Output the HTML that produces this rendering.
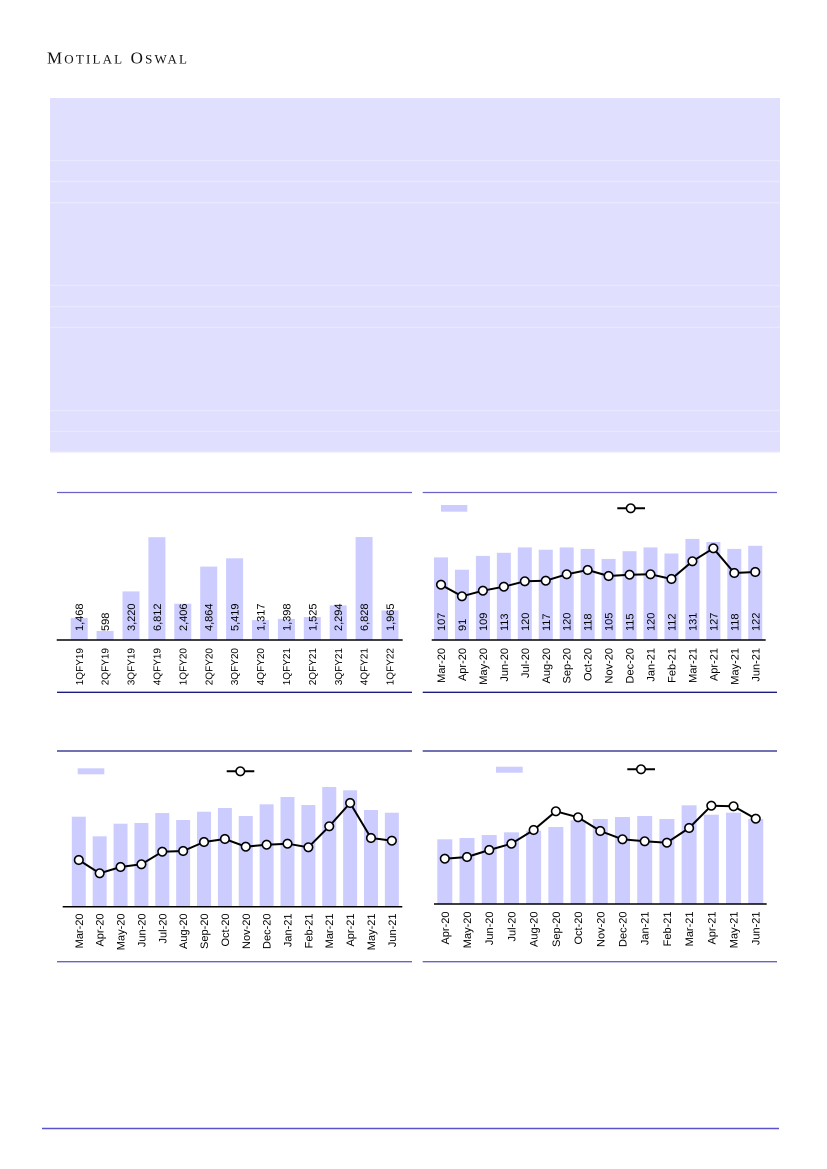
<!DOCTYPE html>
<html>
<head>
<meta charset="utf-8">
<style>
html,body{margin:0;padding:0;background:#fff;}
body{width:827px;height:1169px;overflow:hidden;}
svg{display:block;}
text{font-family:"Liberation Sans",Arial,sans-serif;fill:#000;}
.hdr{font-family:"Liberation Serif","Times New Roman",serif;fill:#111;}
.dl{font-size:11px;}
.cl{font-size:11px;}
.bar{fill:#ccccff;}
.ln{fill:none;stroke:#000;stroke-width:2;stroke-linejoin:round;}
.mk{fill:#fff;stroke:#000;stroke-width:1.6;}
</style>
</head>
<body>
<svg width="827" height="1169" viewBox="0 0 827 1169" xmlns="http://www.w3.org/2000/svg">
<!-- Header -->
<text class="hdr" x="47" y="63.5" textLength="140" lengthAdjust="spacing"><tspan font-size="17">M</tspan><tspan font-size="13">OTILAL</tspan><tspan font-size="17"> O</tspan><tspan font-size="13">SWAL</tspan></text>

<!-- Table block -->
<rect x="50" y="98" width="730" height="354" fill="#e0e0fe"/>
<g stroke="#eaeaff" stroke-width="1.2">
<line x1="50" y1="160.7" x2="780" y2="160.7"/>
<line x1="50" y1="181.5" x2="780" y2="181.5"/>
<line x1="50" y1="202.8" x2="780" y2="202.8"/>
<line x1="50" y1="285.3" x2="780" y2="285.3"/>
<line x1="50" y1="306.7" x2="780" y2="306.7"/>
<line x1="50" y1="327.3" x2="780" y2="327.3"/>
<line x1="50" y1="410.7" x2="780" y2="410.7"/>
<line x1="50" y1="431.3" x2="780" y2="431.3"/>
<line x1="50" y1="452" x2="780" y2="452"/>
</g>

<!-- Chart frame lines -->
<g stroke-width="1.3">
<line x1="57" y1="492.5" x2="412" y2="492.5" stroke="#6a62c8"/>
<line x1="422.7" y1="492.5" x2="777" y2="492.5" stroke="#6a62c8"/>
<line x1="57" y1="692.3" x2="412" y2="692.3" stroke="#1c1c82"/>
<line x1="422.7" y1="692.3" x2="777" y2="692.3" stroke="#1c1c82"/>
<line x1="57" y1="751" x2="412" y2="751" stroke="#1c1c82"/>
<line x1="422.7" y1="751" x2="777" y2="751" stroke="#1c1c82"/>
<line x1="57" y1="961.7" x2="412" y2="961.7" stroke="#6a62c8"/>
<line x1="422.7" y1="961.7" x2="777" y2="961.7" stroke="#6a62c8"/>
</g>

<!-- Footer line -->
<line x1="42" y1="1128.5" x2="779" y2="1128.5" stroke="#5a52cc" stroke-width="1.5"/>

<!-- ============ Chart 1 ============ -->
<g>
<rect class="bar" x="70.7" y="617.9" width="17" height="22.1"/>
<rect class="bar" x="96.6" y="631" width="17" height="9"/>
<rect class="bar" x="122.5" y="591.4" width="17" height="48.6"/>
<rect class="bar" x="148.4" y="537.2" width="17" height="102.8"/>
<rect class="bar" x="174.3" y="603.7" width="17" height="36.3"/>
<rect class="bar" x="200.2" y="566.6" width="17" height="73.4"/>
<rect class="bar" x="226.1" y="558.3" width="17" height="81.7"/>
<rect class="bar" x="252" y="620.1" width="17" height="19.9"/>
<rect class="bar" x="277.9" y="618.9" width="17" height="21.1"/>
<rect class="bar" x="303.8" y="617" width="17" height="23"/>
<rect class="bar" x="329.7" y="605.4" width="17" height="34.6"/>
<rect class="bar" x="355.6" y="537" width="17" height="103"/>
<rect class="bar" x="381.5" y="610.4" width="17" height="29.6"/>
<line x1="56.7" y1="640" x2="402.7" y2="640" stroke="#000" stroke-width="1.5"/>
<g class="dl">
<text transform="translate(83.2,631) rotate(-90)">1,468</text>
<text transform="translate(109.1,631) rotate(-90)">598</text>
<text transform="translate(135,631) rotate(-90)">3,220</text>
<text transform="translate(160.9,631) rotate(-90)">6,812</text>
<text transform="translate(186.8,631) rotate(-90)">2,406</text>
<text transform="translate(212.7,631) rotate(-90)">4,864</text>
<text transform="translate(238.6,631) rotate(-90)">5,419</text>
<text transform="translate(264.5,631) rotate(-90)">1,317</text>
<text transform="translate(290.4,631) rotate(-90)">1,398</text>
<text transform="translate(316.3,631) rotate(-90)">1,525</text>
<text transform="translate(342.2,631) rotate(-90)">2,294</text>
<text transform="translate(368.1,631) rotate(-90)">6,828</text>
<text transform="translate(394,631) rotate(-90)">1,965</text>
</g>
<g class="cl" text-anchor="end" style="font-size:10px">
<text transform="translate(82.8,648) rotate(-90)">1QFY19</text>
<text transform="translate(108.7,648) rotate(-90)">2QFY19</text>
<text transform="translate(134.6,648) rotate(-90)">3QFY19</text>
<text transform="translate(160.5,648) rotate(-90)">4QFY19</text>
<text transform="translate(186.4,648) rotate(-90)">1QFY20</text>
<text transform="translate(212.3,648) rotate(-90)">2QFY20</text>
<text transform="translate(238.2,648) rotate(-90)">3QFY20</text>
<text transform="translate(264.1,648) rotate(-90)">4QFY20</text>
<text transform="translate(290,648) rotate(-90)">1QFY21</text>
<text transform="translate(315.9,648) rotate(-90)">2QFY21</text>
<text transform="translate(341.8,648) rotate(-90)">3QFY21</text>
<text transform="translate(367.7,648) rotate(-90)">4QFY21</text>
<text transform="translate(393.6,648) rotate(-90)">1QFY22</text>
</g>
</g>

<!-- ============ Chart 2 ============ -->
<g>
<rect class="bar" x="441" y="505" width="26.3" height="6.7"/>
<line x1="617.3" y1="508.3" x2="645" y2="508.3" stroke="#000" stroke-width="2"/>
<circle class="mk" cx="630.7" cy="508.3" r="4.3"/>

<rect class="bar" x="434" y="557.4" width="14" height="82.6"/>
<rect class="bar" x="454.95" y="569.7" width="14" height="70.3"/>
<rect class="bar" x="475.9" y="555.9" width="14" height="84.1"/>
<rect class="bar" x="496.85" y="552.8" width="14" height="87.2"/>
<rect class="bar" x="517.8" y="547.4" width="14" height="92.6"/>
<rect class="bar" x="538.75" y="549.7" width="14" height="90.3"/>
<rect class="bar" x="559.7" y="547.4" width="14" height="92.6"/>
<rect class="bar" x="580.65" y="548.9" width="14" height="91.1"/>
<rect class="bar" x="601.6" y="558.9" width="14" height="81.1"/>
<rect class="bar" x="622.55" y="551.2" width="14" height="88.8"/>
<rect class="bar" x="643.5" y="547.4" width="14" height="92.6"/>
<rect class="bar" x="664.45" y="553.5" width="14" height="86.5"/>
<rect class="bar" x="685.4" y="538.9" width="14" height="101.1"/>
<rect class="bar" x="706.35" y="542" width="14" height="98"/>
<rect class="bar" x="727.3" y="548.9" width="14" height="91.1"/>
<rect class="bar" x="748.25" y="545.8" width="14" height="94.2"/>
<line x1="431.7" y1="640" x2="765.7" y2="640" stroke="#000" stroke-width="1.5"/>

<polyline class="ln" points="441,584.7 461.95,596.3 482.9,590.7 503.85,586.7 524.8,581.3 545.75,580.7 566.7,574.3 587.65,570 608.6,576 629.55,574.7 650.5,574.3 671.45,579 692.4,561.3 713.35,548.3 734.3,573 755.25,572"/>
<g>
<circle class="mk" cx="441" cy="584.7" r="4.3"/>
<circle class="mk" cx="461.95" cy="596.3" r="4.3"/>
<circle class="mk" cx="482.9" cy="590.7" r="4.3"/>
<circle class="mk" cx="503.85" cy="586.7" r="4.3"/>
<circle class="mk" cx="524.8" cy="581.3" r="4.3"/>
<circle class="mk" cx="545.75" cy="580.7" r="4.3"/>
<circle class="mk" cx="566.7" cy="574.3" r="4.3"/>
<circle class="mk" cx="587.65" cy="570" r="4.3"/>
<circle class="mk" cx="608.6" cy="576" r="4.3"/>
<circle class="mk" cx="629.55" cy="574.7" r="4.3"/>
<circle class="mk" cx="650.5" cy="574.3" r="4.3"/>
<circle class="mk" cx="671.45" cy="579" r="4.3"/>
<circle class="mk" cx="692.4" cy="561.3" r="4.3"/>
<circle class="mk" cx="713.35" cy="548.3" r="4.3"/>
<circle class="mk" cx="734.3" cy="573" r="4.3"/>
<circle class="mk" cx="755.25" cy="572" r="4.3"/>
</g>
<g class="dl">
<text transform="translate(445,631) rotate(-90)">107</text>
<text transform="translate(465.95,631) rotate(-90)">91</text>
<text transform="translate(486.9,631) rotate(-90)">109</text>
<text transform="translate(507.85,631) rotate(-90)">113</text>
<text transform="translate(528.8,631) rotate(-90)">120</text>
<text transform="translate(549.75,631) rotate(-90)">117</text>
<text transform="translate(570.7,631) rotate(-90)">120</text>
<text transform="translate(591.65,631) rotate(-90)">118</text>
<text transform="translate(612.6,631) rotate(-90)">105</text>
<text transform="translate(633.55,631) rotate(-90)">115</text>
<text transform="translate(654.5,631) rotate(-90)">120</text>
<text transform="translate(675.45,631) rotate(-90)">112</text>
<text transform="translate(696.4,631) rotate(-90)">131</text>
<text transform="translate(717.35,631) rotate(-90)">127</text>
<text transform="translate(738.3,631) rotate(-90)">118</text>
<text transform="translate(759.25,631) rotate(-90)">122</text>
</g>
<g class="cl" text-anchor="end">
<text transform="translate(445,648) rotate(-90)">Mar-20</text>
<text transform="translate(465.95,648) rotate(-90)">Apr-20</text>
<text transform="translate(486.9,648) rotate(-90)">May-20</text>
<text transform="translate(507.85,648) rotate(-90)">Jun-20</text>
<text transform="translate(528.8,648) rotate(-90)">Jul-20</text>
<text transform="translate(549.75,648) rotate(-90)">Aug-20</text>
<text transform="translate(570.7,648) rotate(-90)">Sep-20</text>
<text transform="translate(591.65,648) rotate(-90)">Oct-20</text>
<text transform="translate(612.6,648) rotate(-90)">Nov-20</text>
<text transform="translate(633.55,648) rotate(-90)">Dec-20</text>
<text transform="translate(654.5,648) rotate(-90)">Jan-21</text>
<text transform="translate(675.45,648) rotate(-90)">Feb-21</text>
<text transform="translate(696.4,648) rotate(-90)">Mar-21</text>
<text transform="translate(717.35,648) rotate(-90)">Apr-21</text>
<text transform="translate(738.3,648) rotate(-90)">May-21</text>
<text transform="translate(759.25,648) rotate(-90)">Jun-21</text>
</g>
</g>

<!-- ============ Chart 3 ============ -->
<g>
<rect class="bar" x="77.7" y="768.3" width="26.6" height="6"/>
<line x1="226.7" y1="771.3" x2="254.3" y2="771.3" stroke="#000" stroke-width="2"/>
<circle class="mk" cx="240.3" cy="771.3" r="4.3"/>

<rect class="bar" x="71.8" y="816.7" width="14" height="90"/>
<rect class="bar" x="92.67" y="836.3" width="14" height="70.4"/>
<rect class="bar" x="113.54" y="823.7" width="14" height="83"/>
<rect class="bar" x="134.41" y="823" width="14" height="83.7"/>
<rect class="bar" x="155.28" y="813" width="14" height="93.7"/>
<rect class="bar" x="176.15" y="820" width="14" height="86.7"/>
<rect class="bar" x="197.02" y="811.7" width="14" height="95"/>
<rect class="bar" x="217.89" y="808" width="14" height="98.7"/>
<rect class="bar" x="238.76" y="816" width="14" height="90.7"/>
<rect class="bar" x="259.63" y="804.3" width="14" height="102.4"/>
<rect class="bar" x="280.5" y="797" width="14" height="109.7"/>
<rect class="bar" x="301.37" y="805" width="14" height="101.7"/>
<rect class="bar" x="322.24" y="787" width="14" height="119.7"/>
<rect class="bar" x="343.11" y="790.3" width="14" height="116.4"/>
<rect class="bar" x="363.98" y="810" width="14" height="96.7"/>
<rect class="bar" x="384.85" y="812.7" width="14" height="94"/>
<line x1="62.7" y1="906.7" x2="402.3" y2="906.7" stroke="#000" stroke-width="1.5"/>

<polyline class="ln" points="78.8,860 99.67,873.3 120.54,867 141.41,864.3 162.28,851.7 183.15,851 204.02,842 224.89,839 245.76,846.7 266.63,844.7 287.5,843.7 308.37,847.3 329.24,826.3 350.11,803 370.98,838 391.85,840.7"/>
<g>
<circle class="mk" cx="78.8" cy="860" r="4.3"/>
<circle class="mk" cx="99.67" cy="873.3" r="4.3"/>
<circle class="mk" cx="120.54" cy="867" r="4.3"/>
<circle class="mk" cx="141.41" cy="864.3" r="4.3"/>
<circle class="mk" cx="162.28" cy="851.7" r="4.3"/>
<circle class="mk" cx="183.15" cy="851" r="4.3"/>
<circle class="mk" cx="204.02" cy="842" r="4.3"/>
<circle class="mk" cx="224.89" cy="839" r="4.3"/>
<circle class="mk" cx="245.76" cy="846.7" r="4.3"/>
<circle class="mk" cx="266.63" cy="844.7" r="4.3"/>
<circle class="mk" cx="287.5" cy="843.7" r="4.3"/>
<circle class="mk" cx="308.37" cy="847.3" r="4.3"/>
<circle class="mk" cx="329.24" cy="826.3" r="4.3"/>
<circle class="mk" cx="350.11" cy="803" r="4.3"/>
<circle class="mk" cx="370.98" cy="838" r="4.3"/>
<circle class="mk" cx="391.85" cy="840.7" r="4.3"/>
</g>
<g class="cl" text-anchor="end">
<text transform="translate(82.8,913.5) rotate(-90)">Mar-20</text>
<text transform="translate(103.67,913.5) rotate(-90)">Apr-20</text>
<text transform="translate(124.54,913.5) rotate(-90)">May-20</text>
<text transform="translate(145.41,913.5) rotate(-90)">Jun-20</text>
<text transform="translate(166.28,913.5) rotate(-90)">Jul-20</text>
<text transform="translate(187.15,913.5) rotate(-90)">Aug-20</text>
<text transform="translate(208.02,913.5) rotate(-90)">Sep-20</text>
<text transform="translate(228.89,913.5) rotate(-90)">Oct-20</text>
<text transform="translate(249.76,913.5) rotate(-90)">Nov-20</text>
<text transform="translate(270.63,913.5) rotate(-90)">Dec-20</text>
<text transform="translate(291.5,913.5) rotate(-90)">Jan-21</text>
<text transform="translate(312.37,913.5) rotate(-90)">Feb-21</text>
<text transform="translate(333.24,913.5) rotate(-90)">Mar-21</text>
<text transform="translate(354.11,913.5) rotate(-90)">Apr-21</text>
<text transform="translate(374.98,913.5) rotate(-90)">May-21</text>
<text transform="translate(395.85,913.5) rotate(-90)">Jun-21</text>
</g>
</g>

<!-- ============ Chart 4 ============ -->
<g>
<rect class="bar" x="496" y="766.7" width="26.7" height="6"/>
<line x1="627.3" y1="769.3" x2="655" y2="769.3" stroke="#000" stroke-width="2"/>
<circle class="mk" cx="641" cy="769.3" r="4.3"/>

<rect class="bar" x="437.3" y="839.3" width="15" height="64.7"/>
<rect class="bar" x="459.51" y="838" width="15" height="66"/>
<rect class="bar" x="481.72" y="835" width="15" height="69"/>
<rect class="bar" x="503.93" y="832.3" width="15" height="71.7"/>
<rect class="bar" x="526.14" y="830.7" width="15" height="73.3"/>
<rect class="bar" x="548.35" y="827" width="15" height="77"/>
<rect class="bar" x="570.56" y="820.3" width="15" height="83.7"/>
<rect class="bar" x="592.77" y="819" width="15" height="85"/>
<rect class="bar" x="614.98" y="817" width="15" height="87"/>
<rect class="bar" x="637.19" y="816" width="15" height="88"/>
<rect class="bar" x="659.4" y="819" width="15" height="85"/>
<rect class="bar" x="681.61" y="805.3" width="15" height="98.7"/>
<rect class="bar" x="703.82" y="814.7" width="15" height="89.3"/>
<rect class="bar" x="726.03" y="812.7" width="15" height="91.3"/>
<rect class="bar" x="748.24" y="819" width="15" height="85"/>
<line x1="434" y1="904" x2="766.7" y2="904" stroke="#000" stroke-width="1.5"/>

<polyline class="ln" points="444.8,858.7 467.01,857 489.22,850 511.43,843.7 533.64,830 555.85,811.3 578.06,817.3 600.27,831 622.48,839.3 644.69,841.3 666.9,842.7 689.11,828 711.32,805.7 733.53,806.3 755.74,818.7"/>
<g>
<circle class="mk" cx="444.8" cy="858.7" r="4.3"/>
<circle class="mk" cx="467.01" cy="857" r="4.3"/>
<circle class="mk" cx="489.22" cy="850" r="4.3"/>
<circle class="mk" cx="511.43" cy="843.7" r="4.3"/>
<circle class="mk" cx="533.64" cy="830" r="4.3"/>
<circle class="mk" cx="555.85" cy="811.3" r="4.3"/>
<circle class="mk" cx="578.06" cy="817.3" r="4.3"/>
<circle class="mk" cx="600.27" cy="831" r="4.3"/>
<circle class="mk" cx="622.48" cy="839.3" r="4.3"/>
<circle class="mk" cx="644.69" cy="841.3" r="4.3"/>
<circle class="mk" cx="666.9" cy="842.7" r="4.3"/>
<circle class="mk" cx="689.11" cy="828" r="4.3"/>
<circle class="mk" cx="711.32" cy="805.7" r="4.3"/>
<circle class="mk" cx="733.53" cy="806.3" r="4.3"/>
<circle class="mk" cx="755.74" cy="818.7" r="4.3"/>
</g>
<g class="cl" text-anchor="end">
<text transform="translate(448.8,911.5) rotate(-90)">Apr-20</text>
<text transform="translate(471.01,911.5) rotate(-90)">May-20</text>
<text transform="translate(493.22,911.5) rotate(-90)">Jun-20</text>
<text transform="translate(515.43,911.5) rotate(-90)">Jul-20</text>
<text transform="translate(537.64,911.5) rotate(-90)">Aug-20</text>
<text transform="translate(559.85,911.5) rotate(-90)">Sep-20</text>
<text transform="translate(582.06,911.5) rotate(-90)">Oct-20</text>
<text transform="translate(604.27,911.5) rotate(-90)">Nov-20</text>
<text transform="translate(626.48,911.5) rotate(-90)">Dec-20</text>
<text transform="translate(648.69,911.5) rotate(-90)">Jan-21</text>
<text transform="translate(670.9,911.5) rotate(-90)">Feb-21</text>
<text transform="translate(693.11,911.5) rotate(-90)">Mar-21</text>
<text transform="translate(715.32,911.5) rotate(-90)">Apr-21</text>
<text transform="translate(737.53,911.5) rotate(-90)">May-21</text>
<text transform="translate(759.74,911.5) rotate(-90)">Jun-21</text>
</g>
</g>
</svg>
</body>
</html>
